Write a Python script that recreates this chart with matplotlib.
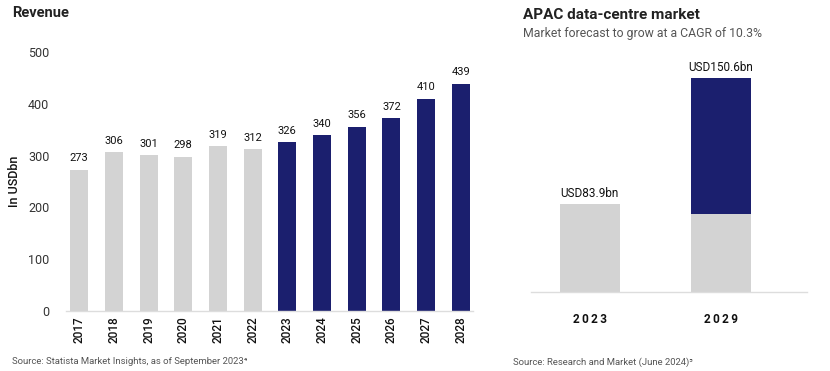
import matplotlib
matplotlib.use("Agg")
import matplotlib.pyplot as plt

plt.rcParams['font.family'] = ['Roboto', 'DejaVu Sans']

# Left chart data
years = ["2017", "2018", "2019", "2020", "2021", "2022",
         "2023", "2024", "2025", "2026", "2027", "2028"]
revenue = [273, 306, 301, 298, 319, 312, 326, 340, 356, 372, 410, 439]
forecast_flag = [0, 0, 0, 0, 0, 0, 1, 1, 1, 1, 1, 1]
yticks_left = [0, 100, 200, 300, 400, 500]

# Right chart data (bar heights as drawn)
apac_years = ["2023", "2029"]
apac_grey = [83.9, 74.4]
apac_navy = [0, 129.7]
apac_labels = ["USD83.9bn", "USD150.6bn"]

GREY = "#d3d3d3"
NAVY = "#1b1f6e"
TXT = "#222222"
SRC = "#555555"

W, H = 830, 371
fig = plt.figure(figsize=(W / 100, H / 100), dpi=100)

def ax_rect(x0, x1, ytop, ybot):
    return [x0 / W, (H - ybot) / H, (x1 - x0) / W, (ybot - ytop) / H]

# ---------- Left chart ----------
ax = fig.add_axes(ax_rect(66, 473, 52, 311))
xs = list(range(len(years)))
colors = [NAVY if f else GREY for f in forecast_flag]
ax.bar(xs, revenue, width=0.52, color=colors, zorder=2)
for x, v in zip(xs, revenue):
    ax.text(x, v + 12, str(v), ha='center', va='bottom', fontsize=8, color='#111111')
ax.set_xlim(-0.38, 11.35)
ax.set_ylim(0, 500)
ax.set_yticks(yticks_left)
ax.set_xticks(xs)
ax.set_xticklabels(years, rotation=90, fontsize=8.5, color='#111111', fontweight='medium')
ax.tick_params(axis='both', length=0)
ax.tick_params(axis='y', labelsize=9, colors='#333333', pad=12)
ax.tick_params(axis='x', pad=4)
for s in ['top', 'right', 'left']:
    ax.spines[s].set_visible(False)
ax.spines['bottom'].set_color('#dddddd')
ax.spines['bottom'].set_linewidth(1)
ax.set_ylabel("In USDbn", fontsize=9, color='#111111', labelpad=5, fontweight='medium')

fig.text(12 / W, 1 - 13 / H, "Revenue", fontsize=10.5, fontweight='bold',
         color=TXT, ha='left', va='center')
fig.text(12 / W, 1 - 362 / H, "Source: Statista Market Insights, as of September 2023\u2074",
         fontsize=6.8, color=SRC, ha='left', va='center')

# ---------- Right chart ----------
ax2 = fig.add_axes(ax_rect(531, 807, 52, 292))
xr = [0, 1]
ax2.bar(xr, apac_grey, width=0.46, color=GREY, zorder=2)
ax2.bar(xr, apac_navy, width=0.46, bottom=apac_grey, color=NAVY, zorder=2)
for x, g, n, lab in zip(xr, apac_grey, apac_navy, apac_labels):
    ax2.text(x, g + n + 4, lab, ha='center', va='bottom', fontsize=8.5, color='#111111')
ax2.set_xlim(-0.45, 1.66)
ax2.set_ylim(0, 240 * 0.953)
ax2.set_yticks([])
ax2.set_xticks(xr)
ax2.set_xticklabels(["\u2009".join(y) for y in apac_years], fontsize=8.5,
                    fontweight='bold', color='#111111')
ax2.tick_params(axis='x', length=0, pad=15)
for s in ['top', 'right', 'left']:
    ax2.spines[s].set_visible(False)
ax2.spines['bottom'].set_color('#dddddd')
ax2.spines['bottom'].set_linewidth(1)

fig.text(523 / W, 1 - 15 / H, "APAC data-centre market", fontsize=11, fontweight='bold',
         color=TXT, ha='left', va='center')
fig.text(523 / W, 1 - 33 / H, "Market forecast to grow at a CAGR of 10.3%", fontsize=8.8,
         color='#555555', ha='left', va='center')
fig.text(513 / W, 1 - 362 / H, "Source: Research and Market (June 2024)\u2075",
         fontsize=6.8, color=SRC, ha='left', va='center')

fig.savefig("out.png", dpi=100)
